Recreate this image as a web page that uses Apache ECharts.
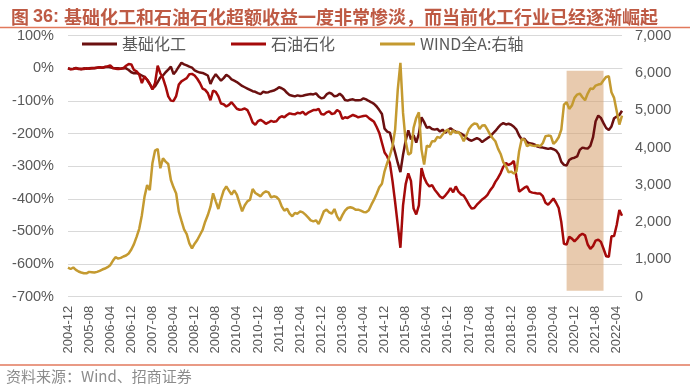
<!DOCTYPE html>
<html><head><meta charset="utf-8">
<script src="https://cdn.jsdelivr.net/npm/echarts@6/dist/echarts.min.js"></script>
<style>html,body{margin:0;padding:0;background:#fff}#c{width:700px;height:388px}</style>
</head><body><div id="c"></div>
<script>
// Monthly categories 2004-12 .. 2022-06
const startYear = 2004, startMonth = 12, monthCount = 211;
const categories = [];
for (let k = 0; k < monthCount; k++) {
  const t = startMonth - 1 + k;
  const y = startYear + Math.floor(t / 12);
  const m = (t % 12) + 1;
  categories.push(y + '-' + (m < 10 ? '0' + m : m));
}
const leftTicks = [-700, 100, 100];   // min, max, interval (%)
const rightTicks = [0, 7000, 1000];   // min, max, interval
const shadeRange = ['2020-09', '2021-11'];
const shadeValues = [161, 6061];

// 基础化工 超额收益 (%)
const chem = [
0,-2,-1,1,-1,-3,0,-1,0,1,0,2,3,2,4,5,3,1,0,0,
-1,1,0,-5,-12,-15,-14,-18,-22,-26,-35,-48,-62,-55,-42,-28,-22,-12,-4,5,
-18,-8,5,17,12,9,5,2,-6,-10,-13,-14,-18,-22,-48,-30,-18,-28,-38,-30,
-20,-25,-34,-38,-42,-48,-54,-58,-62,-66,-70,-72,-76,-79,-72,-74,-73,-70,-68,-64,
-58,-61,-66,-75,-82,-84,-86,-83,-85,-84,-82,-80,-79,-80,-77,-86,-92,-90,-80,-75,
-78,-86,-84,-78,-85,-97,-99,-96,-95,-98,-98,-97,-92,-95,-100,-104,-109,-117,-128,-140,
-185,-194,-197,-228,-258,-290,-318,-265,-222,-190,-218,-205,-228,-200,-150,-165,-182,-180,-186,-188,
-186,-194,-188,-198,-190,-184,-190,-194,-196,-200,-205,-213,-219,-222,-218,-214,-218,-226,-220,-214,
-209,-200,-192,-182,-173,-168,-172,-170,-173,-179,-188,-206,-218,-216,-226,-230,-231,-234,-240,-242,
-243,-245,-247,-245,-248,-252,-263,-287,-296,-298,-281,-276,-274,-270,-250,-243,-245,-246,-238,-212,
-162,-145,-152,-168,-183,-189,-178,-153,-148,-143,-130
];
// 石油石化 超额收益 (%)
const oil = [
0,-3,-2,0,-2,-1,-2,0,-1,0,1,2,3,2,4,6,9,1,-1,-2,
-1,0,8,13,12,-5,-9,-19,-45,-25,-35,-48,-65,-45,8,-15,-30,-55,-86,-99,
-100,-85,-50,-40,-35,-30,-18,-17,-22,-32,-45,-62,-66,-76,-98,-68,-72,-86,-108,-110,
-117,-112,-104,-114,-124,-127,-126,-123,-128,-145,-166,-173,-162,-158,-163,-170,-166,-161,-164,-162,
-152,-147,-150,-143,-138,-140,-141,-136,-138,-133,-142,-136,-132,-128,-128,-124,-140,-142,-135,-132,
-140,-138,-128,-133,-155,-150,-152,-147,-143,-146,-150,-148,-146,-145,-152,-158,-164,-180,-198,-228,
-258,-270,-290,-345,-410,-480,-550,-420,-355,-322,-345,-430,-448,-420,-306,-335,-352,-362,-358,-372,
-382,-393,-398,-390,-380,-367,-380,-362,-378,-386,-390,-403,-418,-430,-428,-418,-410,-402,-396,-388,
-374,-364,-348,-336,-321,-302,-290,-296,-292,-284,-334,-378,-372,-366,-362,-378,-381,-382,-384,-384,
-392,-412,-418,-409,-399,-412,-428,-472,-538,-540,-516,-522,-530,-522,-512,-507,-512,-540,-553,-545,
-528,-525,-532,-553,-576,-578,-515,-514,-480,-434,-452
];
// WIND全A 指数 (右轴)
const windA = [
779,743,783,719,675,648,630,627,666,657,648,666,693,729,756,792,845,962,1060,1024,
1042,1078,1105,1158,1266,1409,1606,1820,2187,2678,2992,2857,3578,3918,3963,3444,3713,3623,3560,3131,
2934,2768,2280,2038,1806,1680,1430,1296,1421,1520,1654,1788,2012,2191,2414,2773,2558,2352,2620,2844,
2960,2844,2737,2853,2737,2513,2290,2451,2558,2603,2889,2781,2737,2692,2781,2826,2799,2665,2692,2674,
2603,2424,2308,2361,2227,2156,2245,2227,2290,2263,2200,2129,2048,2021,2048,1950,2110,2290,2334,2263,
2227,2352,2156,2039,2187,2308,2379,2400,2379,2334,2334,2308,2272,2263,2317,2468,2603,2763,2933,3032,
3363,3587,3784,4034,4482,5555,6270,4929,4169,3811,3856,4527,4795,4947,3945,3543,4052,4016,4169,4169,
4285,4258,4348,4437,4482,4348,4464,4392,4419,4321,4169,4321,4500,4589,4643,4634,4500,4589,4598,4482,
4348,4249,4169,3972,3829,3605,3498,3337,3355,3301,3363,3900,4231,4213,4034,4079,4052,4043,4061,4034,
4124,4303,4321,4312,4097,4169,4276,4482,5153,5216,5037,5126,5332,5421,5448,5350,5269,5448,5582,5573,
5663,5690,5707,5806,5896,5913,5484,5332,4974,4616,4858
];

const seriesNames = ['基础化工', '石油石化', 'WIND全A:右轴'];
const colors = ['#6B1010', '#A50A0A', '#C49A30'];
const axisGray = '#595959';
const gridGray = '#D9D9D9';

const chart = echarts.init(document.getElementById('c'), null, {renderer: 'canvas'});
chart.setOption({
  animation: false,
  backgroundColor: '#fff',
  title: {
    left: 6, top: 3,
    text: '{a|图 }{b|36: }{c|基础化工和石油石化超额收益一度非常惨淡，而当前化工行业已经逐渐崛起}',
    textStyle: {
      rich: {
        a: {fontSize: 18, color: '#BE5A44', fontFamily: 'Noto Sans CJK SC'},
        b: {fontSize: 18, color: '#BE5A44', fontWeight: 'bold', fontFamily: 'Liberation Sans'},
        c: {fontSize: 18, color: '#BE5A44', fontWeight: 'bold', fontFamily: 'Noto Sans CJK SC'}
      }
    }
  },
  graphic: [
    {type: 'line', shape: {x1: 0, y1: 27.5, x2: 690, y2: 27.5}, style: {stroke: '#E2795C', lineWidth: 1.5}},
    {type: 'line', shape: {x1: 0, y1: 365, x2: 690, y2: 365}, style: {stroke: '#E2795C', lineWidth: 1.5}},
    {type: 'text', left: 6, top: 369, style: {text: '资料来源：Wind、招商证券', fill: '#8C8C8C', fontSize: 15, fontFamily: 'Noto Sans CJK SC'}}
  ],
  legend: {
    left: 77, top: 31,
    itemGap: 45, itemWidth: 35, itemHeight: 3, icon: 'rect',
    data: seriesNames,
    textStyle: {fontSize: 16, color: axisGray, fontFamily: 'Noto Sans CJK SC'}
  },
  grid: {left: 68, right: 78, top: 35.7, bottom: 91.3, containLabel: false},
  xAxis: {
    type: 'category', data: categories, boundaryGap: false,
    axisLine: {show: true, lineStyle: {color: gridGray}},
    axisTick: {show: false},
    axisLabel: {interval: 7, rotate: 90, margin: 9, fontSize: 13, color: axisGray, fontFamily: 'Liberation Sans'},
    splitLine: {show: false}
  },
  yAxis: [
    {type: 'value', min: leftTicks[0], max: leftTicks[1], interval: leftTicks[2],
     axisLine: {show: false}, axisTick: {show: false},
     axisLabel: {formatter: '{value}%', margin: 14, fontSize: 14.5, color: axisGray, fontFamily: 'Liberation Sans'},
     splitLine: {lineStyle: {color: gridGray, width: 1}}},
    {type: 'value', min: rightTicks[0], max: rightTicks[1], interval: rightTicks[2],
     axisLine: {show: false}, axisTick: {show: false},
     axisLabel: {formatter: v => v.toLocaleString('en-US'), margin: 13, fontSize: 14.5, color: axisGray, fontFamily: 'Liberation Sans'},
     splitLine: {show: false}}
  ],
  series: [
    {type: 'line', yAxisIndex: 1, data: [], z: 1, silent: true,
     markArea: {silent: true, itemStyle: {color: 'rgba(214,158,108,0.55)'},
       data: [[{xAxis: shadeRange[0], yAxis: shadeValues[0]}, {xAxis: shadeRange[1], yAxis: shadeValues[1]}]]}},
    {name: seriesNames[0], type: 'line', data: chem, yAxisIndex: 0, z: 3, showSymbol: false, symbol: 'none',
     lineStyle: {width: 2.5, color: colors[0]}, itemStyle: {color: colors[0]}},
    {name: seriesNames[1], type: 'line', data: oil, yAxisIndex: 0, z: 3, showSymbol: false, symbol: 'none',
     lineStyle: {width: 2.5, color: colors[1]}, itemStyle: {color: colors[1]}},
    {name: seriesNames[2], type: 'line', data: windA, yAxisIndex: 1, z: 3, showSymbol: false, symbol: 'none',
     lineStyle: {width: 2.5, color: colors[2]}, itemStyle: {color: colors[2]}}
  ]
});
</script></body></html>
